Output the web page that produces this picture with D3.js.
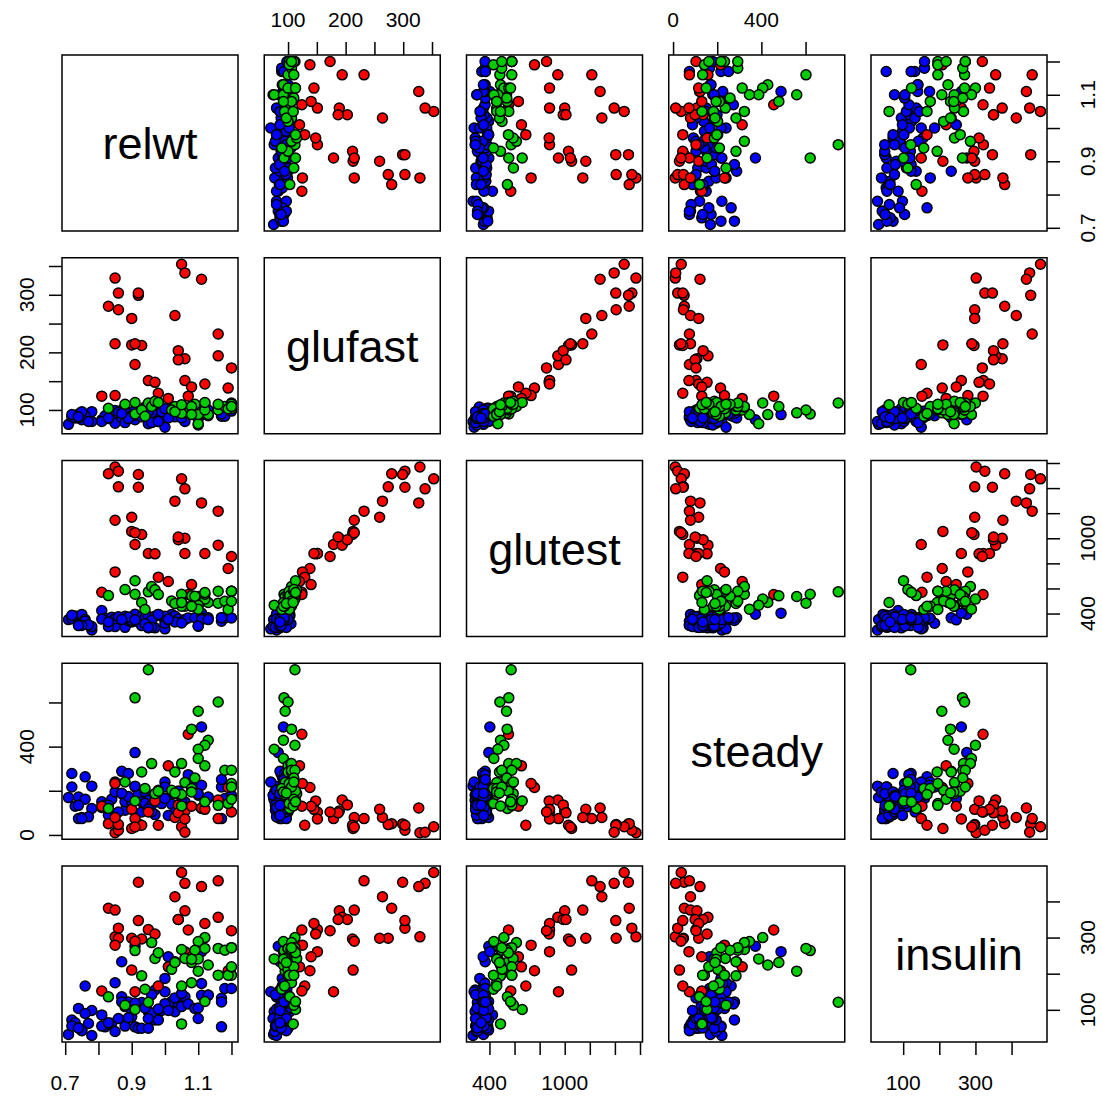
<!DOCTYPE html>
<html><head><meta charset="utf-8">
<script src="https://cdn.jsdelivr.net/npm/d3@7"></script>
<style>body{margin:0;background:#fff}svg{display:block}</style>
</head><body>
<svg id="chart" width="1103" height="1099"></svg>
<script>
// ---- data (order: Normal, Overt diabetic, Chemical diabetic) ----
const variables = ["relwt", "glufast", "glutest", "steady", "insulin"];
const groupNames = ["Normal", "Overt", "Chemical"];
const groupColors = ["#0000FF", "#FF0000", "#00CD00"];
const group = [
0,0,0,0,0,0,0,0,0,0,0,0,0,0,0,0,0,0,0,0,0,0,0,0,0,0,0,0,0,0,0,0,0,0,0,0,0,0,
0,0,0,0,0,0,0,0,0,0,0,0,0,0,0,0,0,0,0,0,0,0,0,0,0,0,0,0,0,0,0,0,0,0,0,0,0,0,
1,1,1,1,1,1,1,1,1,1,1,1,1,1,1,1,1,1,1,1,1,1,1,1,1,1,1,1,1,1,1,1,1,
2,2,2,2,2,2,2,2,2,2,2,2,2,2,2,2,2,2,2,2,2,2,2,2,2,2,2,2,2,2,2,2,2,2,2,2];
const relwt = [
0.71,0.72,0.73,0.74,0.75,0.76,0.72,0.78,0.78,0.74,0.76,0.81,0.82,0.84,0.85,0.85,0.87,0.87,0.88,0.88,
0.89,0.90,0.91,0.91,0.92,0.93,0.94,0.95,0.95,0.97,0.97,0.98,1.00,1.00,1.01,1.02,1.03,1.04,1.05,1.06,
1.07,1.09,1.10,1.11,1.11,1.13,1.11,1.17,1.17,1.18,1.20,0.77,0.75,0.83,0.86,0.90,0.93,0.96,0.99,1.00,
1.03,1.05,0.94,0.96,0.89,0.98,1.10,0.95,0.81,0.91,1.13,0.74,1.01,0.87,1.17,0.83,
0.85,0.86,0.92,0.83,1.05,0.86,0.92,1.06,1.11,1.03,1.16,0.90,0.85,0.90,0.93,1.06,0.91,1.16,1.04,1.04,
0.95,0.97,1.06,1.12,1.20,1.19,0.85,0.98,1.01,1.08,0.81,1.07,0.91,
0.95,0.91,1.16,1.10,1.08,1.13,1.12,1.10,1.10,1.12,1.05,0.96,0.93,1.03,1.18,1.20,1.06,1.09,0.94,1.02,
1.08,1.20,0.97,0.98,0.91,0.83,1.19,1.20,1.16,1.05,1.08,1.20,1.03,1.05,0.88,1.12];
const glufast = [
75,88,86,93,83,90,92,80,97,86,90,83,90,90,77,99,86,100,78,100,
94,86,83,91,96,100,94,76,90,86,97,80,70,90,94,103,103,90,88,80,
98,93,74,92,92,90,100,89,93,89,98,80,97,85,96,90,88,95,97,102,
88,86,105,78,85,80,85,97,80,100,100,88,86,94,93,86,
329,303,299,280,353,274,303,338,327,264,232,259,215,213,212,189,179,194,203,187,
151,148,151,145,173,138,125,129,120,140,124,124,215,
112,93,100,95,106,92,112,76,92,100,105,106,100,106,106,112,95,110,89,100,
106,102,115,113,113,103,102,110,110,94,92,106,97,109,110,113];
const glutest = [
352,360,381,318,393,353,386,269,296,312,340,424,361,371,296,359,366,350,290,378,
345,333,395,353,334,376,366,286,378,286,379,393,278,323,350,393,380,356,333,352,
365,367,299,403,364,366,352,339,367,366,365,310,305,296,374,345,304,347,379,378,
333,325,319,290,373,393,301,289,356,350,352,304,354,353,367,333,
1568,1535,1508,1514,1474,1410,1407,1394,1282,1296,1216,1168,1144,1055,1030,1000,950,945,988,1010,
879,876,879,879,855,759,732,690,655,631,570,552,1045,
573,554,483,536,541,488,515,467,435,554,554,615,488,480,498,578,458,538,432,500,
458,578,589,551,661,543,432,578,578,458,458,498,480,488,591,568];
const steady = [
169,278,130,172,79,263,217,221,120,74,162,150,135,162,195,240,288,187,112,150,
278,150,373,217,187,104,195,157,116,180,92,195,240,217,165,139,187,199,127,150,
273,233,180,489,225,168,120,74,217,165,180,82,74,89,104,150,150,104,142,165,
104,150,143,136,174,202,186,117,124,221,172,134,88,189,251,135,
10,21,50,51,37,47,44,12,122,79,74,116,79,29,44,108,74,158,136,100,
104,154,72,116,104,215,233,44,313,130,130,456,36,
748,621,602,560,479,429,406,388,346,313,323,323,285,285,293,293,237,258,210,202,
210,233,187,198,154,120,142,162,134,183,195,217,190,131,240,150];
const insulin = [
32,72,64,104,44,166,55,29,98,50,90,86,53,63,40,175,233,136,55,109,
122,81,276,53,49,49,113,95,49,155,72,72,150,187,247,123,95,118,109,136,
116,104,76,261,173,141,140,53,132,159,159,62,42,60,76,98,120,91,98,117,
133,145,105,142,78,102,105,76,55,119,140,50,98,122,122,64,
302,326,453,381,480,298,347,450,441,413,457,298,376,210,296,374,150,356,350,350,
322,310,261,339,319,208,279,166,219,247,152,321,290,
121,264,270,207,231,224,300,241,289,270,267,286,194,233,265,272,242,265,157,212,
175,196,242,258,101,136,196,219,196,166,240,272,231,61,113,123];

// axis ticks and the tick labels that are printed
const relwtTicks = [0.7, 0.8, 0.9, 1.0, 1.1, 1.2];
const relwtLabels = [0.7, 0.9, 1.1];
const glufastTicks = [100, 150, 200, 250, 300, 350];
const glufastLabels = [100, 200, 300];
const glutestTicks = [400, 600, 800, 1000, 1200, 1400, 1600];
const glutestLabels = [400, 1000];
const steadyTicks = [0, 200, 400, 600];
const steadyLabels = [0, 400];
const insulinTicks = [100, 200, 300, 400];
const insulinLabels = [100, 300];

// ---- layout ----
const columns = [relwt, glufast, glutest, steady, insulin];
const ticks = [relwtTicks, glufastTicks, glutestTicks, steadyTicks, insulinTicks];
const labels = [relwtLabels, glufastLabels, glutestLabels, steadyLabels, insulinLabels];
const fmt = [d3.format(".1f"), d3.format("d"), d3.format("d"), d3.format("d"), d3.format("d")];
const N = variables.length;
const size = 176;
const px = i => 62 + i * 202.25;
const py = j => 55 + j * 202.75;
const FONT = "'Liberation Sans', Arial, Helvetica, sans-serif";
const tickFont = 21;
const strokeW = 1.5;

const xs = columns.map(c => {
  const e = d3.extent(c); const p = (e[1] - e[0]) * 0.04;
  return d3.scaleLinear().domain([e[0] - p, e[1] + p]).range([0, size]);
});
const ys = columns.map(c => {
  const e = d3.extent(c); const p = (e[1] - e[0]) * 0.04;
  return d3.scaleLinear().domain([e[0] - p, e[1] + p]).range([size, 0]);
});

const svg = d3.select("#chart");
svg.append("rect").attr("width", 1103).attr("height", 1099).attr("fill", "#fff");

const idx = d3.range(relwt.length);

for (let j = 0; j < N; j++) {
  for (let i = 0; i < N; i++) {
    const g = svg.append("g").attr("transform", `translate(${px(i)},${py(j)})`);
    if (i === j) {
      g.append("text").attr("x", size / 2).attr("y", size / 2 + 0.36 * 45)
        .attr("text-anchor", "middle").attr("font-family", FONT).attr("font-size", 45)
        .text(variables[i]);
    } else {
      g.selectAll("circle").data(idx).join("circle")
        .attr("cx", k => xs[i](columns[i][k]))
        .attr("cy", k => ys[j](columns[j][k]))
        .attr("r", 5.0)
        .attr("fill", k => groupColors[group[k]])
        .attr("stroke", "#000").attr("stroke-width", 1.5);
    }
    g.append("rect").attr("width", size).attr("height", size)
      .attr("fill", "none").attr("stroke", "#000").attr("stroke-width", strokeW);
  }
}

function styleAxis(sel) {
  sel.select(".domain").remove();
  sel.selectAll(".tick line").attr("stroke", "#000").attr("stroke-width", strokeW);
  sel.selectAll(".tick text").remove();
}

// top (even columns) and bottom (odd columns) axes
for (let i = 0; i < N; i++) {
  const top = (i % 2 === 1);
  const ax = (top ? d3.axisTop(xs[i]) : d3.axisBottom(xs[i])).tickValues(ticks[i]).tickSize(13).tickSizeOuter(0);
  const yPos = top ? py(0) : py(N - 1) + size;
  svg.append("g").attr("transform", `translate(${px(i)},${yPos})`).call(ax).call(styleAxis);
  svg.append("g").selectAll("text").data(labels[i]).join("text")
    .attr("x", d => px(i) + xs[i](d))
    .attr("y", top ? py(0) - 28 : py(N - 1) + size + 48)
    .attr("text-anchor", "middle").attr("font-family", FONT).attr("font-size", tickFont)
    .text(d => fmt[i](d));
}
// left (even rows) and right (odd rows) axes
for (let j = 0; j < N; j++) {
  const left = (j % 2 === 1);
  const ax = (left ? d3.axisLeft(ys[j]) : d3.axisRight(ys[j])).tickValues(ticks[j]).tickSize(13).tickSizeOuter(0);
  const xPos = left ? px(0) : px(N - 1) + size;
  svg.append("g").attr("transform", `translate(${xPos},${py(j)})`).call(ax).call(styleAxis);
  const bx = left ? px(0) - 28 : px(N - 1) + size + 48;
  svg.append("g").selectAll("text").data(labels[j]).join("text")
    .attr("transform", d => `translate(${bx},${py(j) + ys[j](d)}) rotate(-90)`)
    .attr("text-anchor", "middle").attr("font-family", FONT).attr("font-size", tickFont)
    .text(d => fmt[j](d));
}
</script>
</body></html>
